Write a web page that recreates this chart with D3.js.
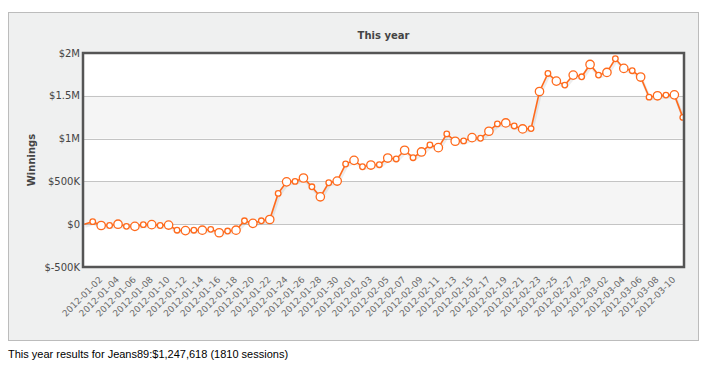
<!DOCTYPE html>
<html>
<head>
<meta charset="utf-8">
<script src="https://cdn.jsdelivr.net/npm/d3@7"></script>
<style>
  body { margin: 0; background: #fff; }
  #caption { position: absolute; left: 8px; top: 348px; font: 11px "Liberation Sans", Arial, sans-serif; color: #000; }
</style>
</head>
<body>
<div id="chart"></div>
<div id="caption">This year results for Jeans89:$1,247,618 (1810 sessions)</div>
<script>
// daily dates, one per point
const dates = [
  "2012-01-01","2012-01-02","2012-01-03","2012-01-04","2012-01-05","2012-01-06","2012-01-07","2012-01-08",
  "2012-01-09","2012-01-10","2012-01-11","2012-01-12","2012-01-13","2012-01-14","2012-01-15","2012-01-16",
  "2012-01-17","2012-01-18","2012-01-19","2012-01-20","2012-01-21","2012-01-22","2012-01-23","2012-01-24",
  "2012-01-25","2012-01-26","2012-01-27","2012-01-28","2012-01-29","2012-01-30","2012-01-31","2012-02-01",
  "2012-02-02","2012-02-03","2012-02-04","2012-02-05","2012-02-06","2012-02-07","2012-02-08","2012-02-09",
  "2012-02-10","2012-02-11","2012-02-12","2012-02-13","2012-02-14","2012-02-15","2012-02-16","2012-02-17",
  "2012-02-18","2012-02-19","2012-02-20","2012-02-21","2012-02-22","2012-02-23","2012-02-24","2012-02-25",
  "2012-02-26","2012-02-27","2012-02-28","2012-02-29","2012-03-01","2012-03-02","2012-03-03","2012-03-04",
  "2012-03-05","2012-03-06","2012-03-07","2012-03-08","2012-03-09","2012-03-10","2012-03-11","2012-03-12"
]

// cumulative winnings in $
const winnings = [
  0, 30000, -15000, -15000, 0, -25000, -25000, -5000,
  -5000, -15000, -10000, -70000, -75000, -70000, -70000, -60000,
  -100000, -80000, -70000, 40000, 10000, 40000, 55000, 360000,
  495000, 500000, 540000, 437000, 320000, 484000, 504000, 703000,
  746000, 671000, 691000, 695000, 773000, 762000, 864000, 777000,
  844000, 926000, 894000, 1055000, 969000, 973000, 1011000, 1004000,
  1086000, 1172000, 1183000, 1148000, 1113000, 1117000, 1550000, 1761000,
  1672000, 1625000, 1742000, 1722000, 1866000, 1742000, 1773000, 1933000,
  1820000, 1793000, 1719000, 1484000, 1500000, 1508000, 1511000, 1247618
]

const tickLabels = [
  "2012-01-02","2012-01-04","2012-01-06","2012-01-08","2012-01-10","2012-01-12","2012-01-14",
  "2012-01-16","2012-01-18","2012-01-20","2012-01-22","2012-01-24","2012-01-26","2012-01-28",
  "2012-01-30","2012-02-01","2012-02-03","2012-02-05","2012-02-07","2012-02-09","2012-02-11",
  "2012-02-13","2012-02-15","2012-02-17","2012-02-19","2012-02-21","2012-02-23","2012-02-25",
  "2012-02-27","2012-02-29","2012-03-02","2012-03-04","2012-03-06","2012-03-08","2012-03-10"
]

const yTicks = [-500000, 0, 500000, 1000000, 1500000, 2000000]
const yTickLabels = ["$-500K", "$0", "$500K", "$1M", "$1.5M", "$2M"]

const W = 704, H = 370
const plot = { left: 83, right: 684, top: 53, bottom: 267 }
const orange = "#ff6a1c"

const svg = d3.select("#chart").append("svg")
  .attr("width", W)
  .attr("height", H)
  .style("position", "absolute").style("left", 0).style("top", 0)

// outer panel
svg.append("rect")
  .attr("x", 8.5).attr("y", 12.5)
  .attr("width", 690).attr("height", 328)
  .attr("fill", "#eff0f0")
  .attr("stroke", "#bcbcbc")

const x = d3.scalePoint().domain(dates).range([plot.left + 1.3, plot.right - 1.2])
const y = d3.scaleLinear().domain([-500000, 2000000]).range([plot.bottom, plot.top])

svg.append("rect")
  .attr("x", plot.left).attr("y", plot.top)
  .attr("width", plot.right - plot.left).attr("height", plot.bottom - plot.top)
  .attr("fill", "#fff")

// alternating bands
const bands = [[0, 500000], [1000000, 1500000]]
svg.selectAll(".band").data(bands).enter().append("rect")
  .attr("class", "band")
  .attr("x", plot.left).attr("width", plot.right - plot.left)
  .attr("y", d => y(d[1]))
  .attr("height", d => y(d[0]) - y(d[1]))
  .attr("fill", "#f5f5f5")

svg.selectAll(".grid").data(yTicks.slice(1, -1)).enter().append("line")
  .attr("class", "grid")
  .attr("x1", plot.left).attr("x2", plot.right)
  .attr("y1", d => Math.round(y(d)) + 0.5).attr("y2", d => Math.round(y(d)) + 0.5)
  .attr("stroke", "#c4c4c4")

// y axis labels
svg.selectAll(".ylab").data(yTicks).enter().append("text")
  .attr("class", "ylab")
  .attr("x", 80)
  .attr("y", d => y(d))
  .attr("dy", "0.36em")
  .attr("text-anchor", "end")
  .style("font", "10px 'DejaVu Sans', sans-serif")
  .style("fill", "#444")
  .text((d, i) => yTickLabels[i])

svg.append("text")
  .attr("transform", "translate(35," + ((plot.top + plot.bottom) / 2) + ") rotate(-90)")
  .attr("text-anchor", "middle")
  .style("font", "bold 10px 'DejaVu Sans', sans-serif")
  .style("fill", "#444")
  .text("Winnings")

svg.append("text")
  .attr("x", (plot.left + plot.right) / 2)
  .attr("y", 39)
  .attr("text-anchor", "middle")
  .style("font", "bold 10px 'DejaVu Sans', sans-serif")
  .style("fill", "#444")
  .text("This year")

// x labels, rotated
svg.selectAll(".xlab").data(tickLabels).enter().append("text")
  .attr("class", "xlab")
  .attr("transform", d => "translate(" + (x(d) + 8) + "," + (plot.bottom + 11) + ") rotate(-45)")
  .attr("text-anchor", "end")
  .attr("dy", "0.35em")
  .style("font", "9px 'DejaVu Sans', sans-serif")
  .style("fill", "#6a6a6a")
  .text(d => d)

const data = dates.map((d, i) => ({ date: d, value: winnings[i], i: i }))

const line = d3.line()
  .x(d => x(d.date))
  .y(d => y(d.value))

const clip = svg.append("defs").append("clipPath").attr("id", "clip")
clip.append("rect")
  .attr("x", plot.left).attr("y", plot.top)
  .attr("width", plot.right - plot.left).attr("height", plot.bottom - plot.top)

const g = svg.append("g").attr("clip-path", "url(#clip)")

// soft shadow under the line
g.append("path")
  .datum(data)
  .attr("d", line)
  .attr("transform", "translate(1,2)")
  .attr("fill", "none")
  .attr("stroke", "rgba(0,0,0,0.07)")
  .attr("stroke-width", 3)

g.append("path")
  .datum(data)
  .attr("d", line)
  .attr("fill", "none")
  .attr("stroke", orange)
  .attr("stroke-width", 1.6)

// first marker sits on the frame and is not drawn
g.selectAll(".dot").data(data.slice(1)).enter().append("circle")
  .attr("class", "dot")
  .attr("cx", d => x(d.date))
  .attr("cy", d => y(d.value))
  .attr("r", d => d.i % 2 === 0 ? 4.2 : 2.8)
  .attr("fill", "#fff")
  .attr("stroke", orange)
  .attr("stroke-width", 1.3)

// plot frame
svg.append("rect")
  .attr("x", plot.left).attr("y", plot.top)
  .attr("width", plot.right - plot.left).attr("height", plot.bottom - plot.top)
  .attr("fill", "none")
  .attr("stroke", "#555")
  .attr("stroke-width", 2.5)
</script>
</body>
</html>
